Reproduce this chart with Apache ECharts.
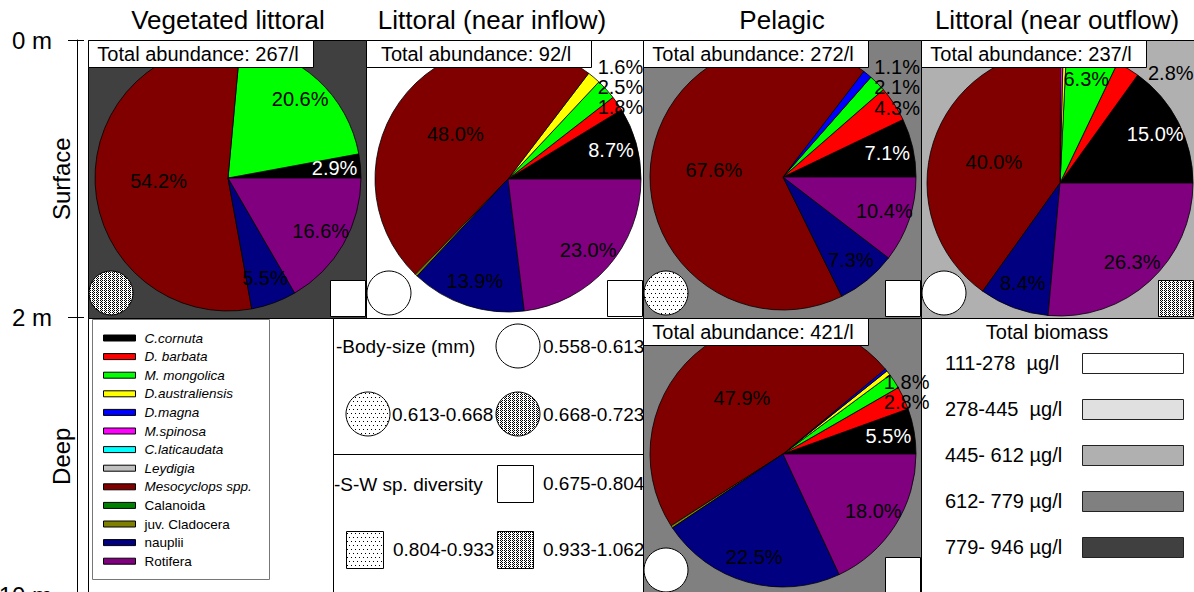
<!DOCTYPE html>
<html><head><meta charset="utf-8">
<script src="https://cdn.jsdelivr.net/npm/echarts@6/dist/echarts.min.js"></script>
<style>html,body{margin:0;padding:0;background:#fff}#c{width:1194px;height:592px}</style>
</head><body><div id="c"></div><script>
// ---------------- DATA ----------------
const categories = ['C.cornuta','D. barbata','M. mongolica','D.australiensis','D.magna','M.spinosa','C.laticaudata','Leydigia','Mesocyclops spp.','Calanoida','juv. Cladocera','nauplii','Rotifera'];
const italicCategory = [true,true,true,true,true,true,true,true,true,false,false,false,false];
const categoryColors = ['#000000','#ff0000','#00ff00','#ffff00','#0000ff','#ff00ff','#00ffff','#c0c0c0','#800000','#008000','#808000','#000080','#800080'];

const columnTitles = ['Vegetated littoral','Littoral (near inflow)','Pelagic','Littoral (near outflow)'];
const depthTicks = ['0 m','2 m','10 m'];
const layers = ['Surface','Deep'];

// sites: veg. littoral (surface), inflow (surface), pelagic (surface), outflow (surface), pelagic (deep)
const totalAbundance = [267, 92, 272, 237, 421];
const vegSurface     = [2.9, 0,   20.6, 0,   0,   0,   0, 0, 54.2, 0, 0,   5.5,  16.6];
const inflowSurface  = [8.7, 1.8, 2.5,  1.6, 0,   0,   0, 0, 48.0, 0, 0.3, 13.9, 23.0];
const pelagicSurface = [7.1, 4.3, 2.1,  0,   1.1, 0,   0, 0, 67.6, 0, 0,   7.3,  10.4];
const outflowSurface = [15.0,2.8, 6.3,  0.4, 0,   0.3, 0, 0, 40.0, 0, 0,   8.4,  26.3];
const pelagicDeep    = [5.5, 2.8, 1.8,  0.6, 0.3, 0,   0, 0, 47.9, 0, 0.3, 22.5, 18.0];
const siteValues = [vegSurface, inflowSurface, pelagicSurface, outflowSurface, pelagicDeep];

// class index of each site in the three keyed legends
const biomassClass   = [4, 0, 3, 2, 3];
const bodySizeClass  = [2, 0, 1, 0, 0];
const diversityClass = [0, 0, 0, 2, 0];

const biomassLabels   = ['111-278  µg/l','278-445  µg/l','445- 612 µg/l','612- 779 µg/l','779- 946 µg/l'];
const bodySizeLabels  = ['0.558-0.613','0.613-0.668','0.668-0.723'];
const diversityLabels = ['0.675-0.804','0.804-0.933','0.933-1.062'];

// ---------------- STYLE / LAYOUT ----------------
const FONT = '"Liberation Sans", Arial, Helvetica, sans-serif';
const biomassFills = ['#ffffff','#e0e0e0','#b0b0b0','#808080','#404040'];
// label placement per slice: c = middle, r = outer ring, o = outside, '' = none
const labelPlace = [
  ['r','','r','','','','','','c','','','r','r'],
  ['r','o','o','o','','','','','c','','','r','r'],
  ['r','o','o','','o','','','','c','','','r','r'],
  ['r','o','r','','','','','','c','','','r','r'],
  ['r','o','o','','','','','','c','','','r','r']
];
const panels = [ // [x0, y0, x1, y1]
  [88,40,366,318],[366,40,643,318],[643,40,921,318],[921,40,1194,318],[643,318,921,595]
];
const pieCenters = [[228,178],[508,179],[783,177],[1060,183],[783,454]];
const R = 133;
const BOX_W = 225, BOX_H = 27;

function makePattern(kind){
  const c = document.createElement('canvas'); c.width = 8; c.height = 8;
  const g = c.getContext('2d');
  g.fillStyle = '#fff'; g.fillRect(0,0,8,8); g.fillStyle = '#000';
  const pts = [];
  if (kind === 'sparse') pts.push([1,1],[5,1],[3,5],[7,5]);
  else {
    for (let y = 0; y < 8; y++) for (let x = 0; x < 8; x++) {
      if ((x % 4) === 3) continue;
      if (((x + y) % 2) === 0) pts.push([x,y]);
    }
  }
  pts.forEach(p => g.fillRect(p[0],p[1],1,1));
  return {type:'pattern', image:c, repeat:'repeat', imageWidth:8, imageHeight:8};
}
const patternFills = ['#ffffff', makePattern('sparse'), makePattern('dense')];

// ---------------- GRAPHICS ----------------
const G = [];
function rect(x,y,w,h,fill,stroke,z,lw){
  G.push({type:'rect', silent:true, z:z||0, shape:{x:x,y:y,width:w,height:h},
          style:{fill:fill, stroke:stroke||null, lineWidth:lw||1}});
}
function circle(cx,cy,r,fill,z){
  G.push({type:'circle', silent:true, z:z||0, shape:{cx:cx,cy:cy,r:r}, style:{fill:fill, stroke:'#000', lineWidth:1}});
}
function line(x1,y1,x2,y2,z){
  G.push({type:'line', silent:true, z:z||0, shape:{x1:x1,y1:y1,x2:x2,y2:y2}, style:{stroke:'#000', lineWidth:1}});
}
function text(t,x,y,size,align,z){
  G.push({type:'text', silent:true, z:z||0, x:x, y:y,
          style:{text:t, fill:'#000', font:size+'px '+FONT, fontSize:size, fontFamily:FONT,
                 align:align||'left', textAlign:align||'left', verticalAlign:'middle', textVerticalAlign:'middle'}});
}

// column titles
const titleX = [228, 492, 782, 1057];
columnTitles.forEach((t,i) => text(t, titleX[i], 20, 26, 'center', 5));

// panels (background = biomass class)
panels.forEach((p,i) => rect(p[0]+0.5, p[1]+0.5, p[2]-p[0], p[3]-p[1], biomassFills[biomassClass[i]], '#000', 0));
// other bottom-row cells
rect(88.5, 318.5, 245, 277, '#fff', '#000', 0);
rect(333.5, 318.5, 310, 277, '#fff', '#000', 0);
rect(921.5, 318.5, 273, 277, '#fff', '#000', 0);

// abundance boxes, body-size circles, diversity squares
panels.forEach((p,i) => {
  rect(p[0]+0.5, p[1]+0.5, BOX_W, BOX_H, '#fff', '#000', 20);
  text('Total abundance: ' + totalAbundance[i] + '/l', p[0] + 110, p[1] + 14, 20, 'center', 21);
  circle(p[0] + 23, p[3] - 25, 22, patternFills[bodySizeClass[i]], 20);
  rect(p[2] - 35.5, p[3] - 37.5, 35, 36, patternFills[diversityClass[i]], '#000', 20);
});

// species legend box
rect(92.5, 319.5, 177, 260, null, '#777', 1);

// body size / diversity keys
const KS = 19;
text('-Body-size (mm)', 336, 346, KS, 'left', 5);
circle(518, 346, 22, patternFills[0], 5);
text(bodySizeLabels[0], 543, 346, KS, 'left', 5);
circle(368, 414, 22, patternFills[1], 5);
text(bodySizeLabels[1], 392, 414, KS, 'left', 5);
circle(518, 414, 22, patternFills[2], 5);
text(bodySizeLabels[2], 543, 414, KS, 'left', 5);
line(333, 454.5, 643, 454.5, 5);
text('-S-W sp. diversity', 334, 484, KS, 'left', 5);
rect(497.5, 465.5, 36, 37, patternFills[0], '#000', 5);
text(diversityLabels[0], 543, 483, KS, 'left', 5);
rect(346.5, 531.5, 37, 37, patternFills[1], '#000', 5);
text(diversityLabels[1], 393, 549, KS, 'left', 5);
rect(497.5, 531.5, 36, 37, patternFills[2], '#000', 5);
text(diversityLabels[2], 543, 549, KS, 'left', 5);

// biomass key
text('Total biomass', 1047, 332, 20, 'center', 5);
biomassLabels.forEach((t,k) => {
  const y = 363 + k * 46;
  text(t, 945, y, 20, 'left', 5);
  rect(1082.5, y - 9.5, 101, 20, biomassFills[k], '#222', 5);
});

// ---------------- SERIES ----------------
const series = [];
// helper series that feeds every category to the legend
series.push({type:'pie', center:[-200,-200], radius:[0,0], silent:true, label:{show:false}, labelLine:{show:false},
  data: categories.map((n,k) => ({name:n, value:1, itemStyle:{color:categoryColors[k]}}))});

// outside labels: stacked upwards from the lowest small slice, kept clear of the abundance box
function outsideLabelLayout(i, items){
  const total = items.reduce((s,it) => s + it.value, 0);
  let cum = 0;
  const mids = items.map(it => { const m = (cum + it.value/2) / total * 2 * Math.PI; cum += it.value; return m; });
  const outIdx = items.map((it,j) => j).filter(j => labelPlace[i][items[j].k] === 'o').sort((a,b) => mids[a] - mids[b]);
  const res = {};
  if (!outIdx.length) return res;
  const cx = pieCenters[i][0], cy = pieCenters[i][1];
  const xc = cx + R * Math.cos(mids[outIdx[0]]) + 3;
  let prevY = null;
  outIdx.forEach(j => {
    let y = cy - R * Math.sin(mids[j]) + 4;
    if (prevY !== null) y = Math.min(y, prevY - 20);
    prevY = y;
    res[j] = {xc:xc, y:y};
  });
  const p = panels[i];
  return function(params){
    const o = res[params.dataIndex];
    if (!o) return {};
    const hw = params.labelRect.width / 2;
    let x = o.xc;
    if (o.y - 10 < p[1] + BOX_H && x - hw < p[0] + BOX_W + 2) x = p[0] + BOX_W + 2 + hw;
    return {x:x, y:o.y, align:'center', verticalAlign:'middle'};
  };
}

siteValues.forEach((vals, i) => {
  const place = labelPlace[i];
  const items = [];
  vals.forEach((v,k) => { if (v > 0) items.push({k:k, name:categories[k], value:v}); });
  const fmt = p => p.value.toFixed(1) + '%';
  const lblColor = k => (categoryColors[k] === '#000000' ? '#ffffff' : '#000000');
  series.push({
    type:'pie', center:pieCenters[i], radius:[0,R], startAngle:0, clockwise:false, silent:true,
    animation:false, avoidLabelOverlap:false, z:3,
    itemStyle:{borderColor:'#000', borderWidth:0.8},
    labelLine:{show:false, length:2, length2:0},
    labelLayout: outsideLabelLayout(i, items),
    data: items.map(it => {
      const pl = place[it.k];
      let label = {show:false};
      if (pl === 'c') label = {show:true, position:'inside', color:lblColor(it.k)};
      if (pl === 'o') label = {show:true, position:'outside', color:'#000', distanceToLabelLine:2};
      return {name:it.name, value:it.value, itemStyle:{color:categoryColors[it.k]}, label:label};
    }),
    label:{fontSize:20, fontFamily:FONT, formatter:fmt, overflow:'none', lineHeight:20}
  });
  series.push({
    type:'pie', center:pieCenters[i], radius:[75,R], startAngle:0, clockwise:false, silent:true,
    animation:false, z:4, legendHoverLink:false,
    itemStyle:{color:'transparent', borderWidth:0},
    labelLine:{show:false},
    data: items.map(it => ({name:it.name, value:it.value, itemStyle:{color:'transparent', borderWidth:0},
      label:{show: place[it.k] === 'r', position:'inside', color:lblColor(it.k)}})),
    label:{fontSize:20, fontFamily:FONT, formatter:fmt}
  });
});

const chart = echarts.init(document.getElementById('c'), null, {renderer:'svg'});
chart.setOption({
  animation:false,
  backgroundColor:'#ffffff',
  textStyle:{fontFamily:FONT},
  grid:{left:77, top:40, width:1, height:555, show:false, containLabel:false, outerBoundsMode:'none'},
  xAxis:{type:'value', show:false},
  yAxis:[
    {type:'category', data:depthTicks, inverse:true, boundaryGap:false, position:'left', offset:0,
     axisLine:{show:true, onZero:false, lineStyle:{color:'#000', width:1}},
     axisTick:{show:true, length:9, interval:0, lineStyle:{color:'#000', width:1}},
     axisLabel:{show:true, interval:0, fontSize:24, color:'#000', fontFamily:FONT, margin:25},
     splitLine:{show:false}},
    {type:'category', data:depthTicks, inverse:true, boundaryGap:false, position:'left', offset:0,
     axisLine:{show:false}, axisTick:{show:true, inside:true, length:7, interval:0, lineStyle:{color:'#000', width:1}},
     axisLabel:{show:false}, splitLine:{show:false}},
    {type:'category', data:layers, inverse:true, position:'left', offset:0,
     axisLine:{show:false}, axisTick:{show:false},
     axisLabel:{show:true, interval:0, rotate:90, fontSize:24, color:'#000', fontFamily:FONT, margin:4},
     splitLine:{show:false}}
  ],
  legend:{
    orient:'vertical', left:103, top:331, itemWidth:32, itemHeight:6, itemGap:4.6, icon:'rect',
    selectedMode:false, padding:0,
    itemStyle:{borderColor:'#000', borderWidth:1},
    data:categories,
    formatter: name => (italicCategory[categories.indexOf(name)] ? '{i|' + name + '}' : '{n|' + name + '}'),
    textStyle:{fontSize:13.5, color:'#000', fontFamily:FONT,
      rich:{i:{fontStyle:'italic', fontSize:13.5, fontFamily:FONT, color:'#000', padding:[0,0,0,4]},
            n:{fontSize:13.5, fontFamily:FONT, color:'#000', padding:[0,0,0,4]}}}
  },
  graphic:{elements:G},
  series:series
});
</script></body></html>
